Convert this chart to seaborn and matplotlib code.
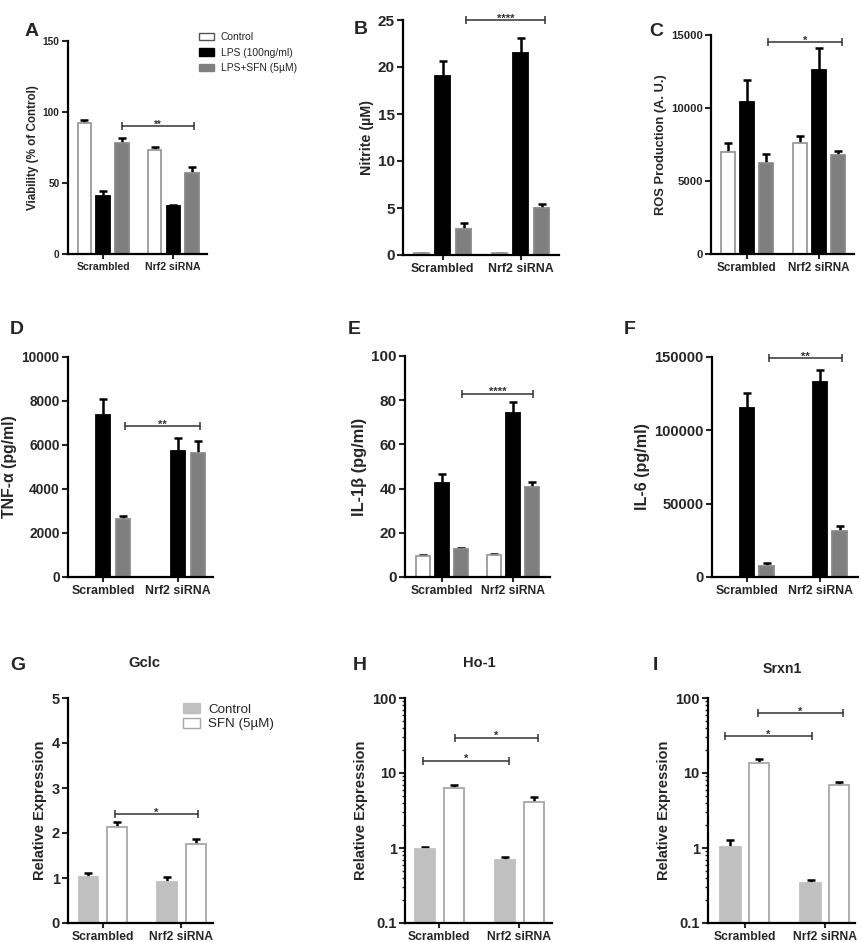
import numpy as np
import pandas as pd
import matplotlib
matplotlib.use("Agg")
import matplotlib.pyplot as plt
from matplotlib.patches import Patch
import seaborn as sns

groups = ["Scrambled", "Nrf2 siRNA"]
lps_levels = ["Control", "LPS (100ng/ml)", "LPS+SFN (5µM)"]
sfn_levels = ["Control", "SFN (5µM)"]

# rows: Control, LPS, LPS+SFN ; columns: Scrambled, Nrf2 siRNA
viability = [[92, 73], [41, 34], [78, 57]]
viability_err = [[2.3, 2.3], [3.5, 0.5], [3.5, 4.2]]
nitrite = [[0.2, 0.2], [19.0, 21.5], [2.8, 5.05]]
nitrite_err = [[0.05, 0.05], [1.6, 1.6], [0.57, 0.35]]
ros = [[7000, 7580], [10430, 12600], [6250, 6780]]
ros_err = [[620, 500], [1480, 1480], [590, 300]]
tnf = [[0, 0], [7350, 5710], [2620, 5650]]
tnf_err = [[0, 0], [740, 620], [170, 530]]
il1b = [[9.4, 9.8], [42.6, 74.0], [12.7, 40.5]]
il1b_err = [[0.45, 0.6], [4.2, 5.1], [0.6, 2.6]]
il6 = [[0, 0], [115500, 133000], [7500, 31100]]
il6_err = [[0, 0], [10000, 8400], [2000, 3900]]

# rows: Control, SFN
gclc = [[1.02, 0.92], [2.14, 1.76]]
gclc_err = [[0.10, 0.10], [0.10, 0.11]]
ho1 = [[0.98, 0.70], [6.36, 4.14]]
ho1_err = [[0.04, 0.05], [0.54, 0.6]]
srxn1 = [[1.04, 0.344], [13.6, 6.9]]
srxn1_err = [[0.24, 0.036], [1.8, 0.6]]

W, H = 861, 942


def px_rect(left, top, right, bottom):
    return [left / W, 1 - bottom / H, (right - left) / W, (bottom - top) / H]


def bar_panel(ax, means, errs, levels, colors, edges, width, gap, log=False):
    df = pd.DataFrame({
        "group": groups * len(levels),
        "treatment": np.repeat(levels, len(groups)),
        "value": np.ravel(means),
    })
    sns.barplot(data=df, x="group", y="value", hue="treatment", order=groups,
                hue_order=levels, palette=dict(zip(levels, colors)),
                width=width, gap=gap, errorbar=None, legend=False,
                saturation=1, linewidth=1.3, ax=ax)
    if log:
        ax.set_yscale("log")
    bars = ax.patches
    for i, b in enumerate(bars):
        b.set_edgecolor(edges[i // len(groups)])
        b.set_zorder(2)
    xs = np.array([b.get_x() + b.get_width() / 2 for b in bars])
    ys = np.array([b.get_height() for b in bars])
    e = np.ravel(errs)
    show = ys > 0
    # lower half of each error bar sits behind its bar
    ax.errorbar(xs[show], ys[show], yerr=e[show], fmt="none", ecolor="black",
                elinewidth=1.8, capsize=3.2, capthick=1.8, zorder=1)
    return xs


def bracket(ax, x1, x2, y, label, fs=8):
    ax.plot([x1, x2], [y, y], color="#333333", lw=1.1, marker="|", ms=6,
            mew=1.1, clip_on=False, zorder=4)
    ax.annotate(label, ((x1 + x2) / 2, y), xytext=(0, -1),
                textcoords="offset points", ha="center", va="baseline",
                fontsize=fs, color="#333333", annotation_clip=False)


def style(ax, ylabel, ytick_fs, xtick_fs, ylabel_fs, xlim):
    sns.despine(ax=ax)
    for s in ("left", "bottom"):
        ax.spines[s].set_linewidth(1.6)
        ax.spines[s].set_color("black")
        ax.spines[s].set_zorder(3)
    ax.set_xlim(*xlim)
    ax.set_xlabel("")
    ax.set_ylabel(ylabel, fontsize=ylabel_fs, fontweight="bold", labelpad=3)
    ax.tick_params(axis="y", length=4.5, width=1.5, labelsize=ytick_fs, pad=1.5)
    ax.tick_params(axis="x", length=3.5, width=1.5, labelsize=xtick_fs, pad=2.5)
    ax.tick_params(axis="y", which="minor", length=2.5, width=1)
    for t in ax.get_xticklabels() + ax.get_yticklabels():
        t.set_fontweight("bold")


sns.set_style("ticks")
plt.rcParams["font.family"] = ["Liberation Sans", "DejaVu Sans"]
plt.rcParams["font.weight"] = "bold"

fig = plt.figure(figsize=(W / 100, H / 100), dpi=100)

lps_colors = ["white", "black", "#7f7f7f"]
lps_edges = ["#9a9a9a", "black", "#8a8a8a"]
sfn_colors = ["#c0c0c0", "white"]
sfn_edges = ["#c0c0c0", "#a8a8a8"]
xl3 = (-0.5, 1.48)
xl2 = (-0.44, 1.4)

# A
ax = fig.add_axes(px_rect(68, 41, 207, 254))
xs = bar_panel(ax, viability, viability_err, lps_levels, lps_colors, lps_edges, 0.8, 0.28)
ax.set_ylim(0, 150)
ax.set_yticks([0, 50, 100, 150])
bracket(ax, xs[4], xs[5] + 0.03, 90, "**", 7)
style(ax, "Viability (% of Control)", 7.3, 7.6, 8.4, xl3)
handles = [Patch(facecolor=c, edgecolor=e, linewidth=1) for c, e in zip(lps_colors, ["#555555", "black", "#7f7f7f"])]
fig.legend(handles, lps_levels, loc="upper left", bbox_to_anchor=(199 / W, 1 - 32 / H),
           frameon=False, borderpad=0, borderaxespad=0, handlelength=1.5,
           handleheight=0.75, handletextpad=0.6, labelspacing=0.55,
           prop={"size": 7.4, "weight": "normal"})

# B
ax = fig.add_axes(px_rect(403, 20, 559, 255))
xs = bar_panel(ax, nitrite, nitrite_err, lps_levels, lps_colors, lps_edges, 0.8, 0.28)
ax.set_ylim(0, 25)
ax.set_yticks([0, 5, 10, 15, 20, 25])
bracket(ax, xs[4] + 0.03, xs[5] + 0.05, 25, "****", 8)
style(ax, "Nitrite (µM)", 11, 8.9, 10.3, (-0.51, 1.49))

# C
ax = fig.add_axes(px_rect(711, 35, 854, 254))
xs = bar_panel(ax, ros, ros_err, lps_levels, lps_colors, lps_edges, 0.8, 0.28)
ax.set_ylim(0, 15000)
ax.set_yticks([0, 5000, 10000, 15000])
bracket(ax, xs[4] + 0.03, xs[5] + 0.05, 14500, "*", 8)
style(ax, "ROS Production (A. U.)", 8.1, 8.4, 9.3, (-0.5, 1.49))

# D
ax = fig.add_axes(px_rect(68, 357, 213, 577))
xs = bar_panel(ax, tnf, tnf_err, lps_levels, lps_colors, lps_edges, 0.8, 0.28)
ax.set_ylim(0, 10000)
ax.set_yticks(range(0, 10001, 2000))
bracket(ax, xs[4] + 0.03, xs[5] + 0.03, 6850, "**", 8)
style(ax, "TNF-α (pg/ml)", 9.9, 8.9, 11.4, (-0.47, 1.47))

# E
ax = fig.add_axes(px_rect(405, 356, 550, 577))
xs = bar_panel(ax, il1b, il1b_err, lps_levels, lps_colors, lps_edges, 0.8, 0.28)
ax.set_ylim(0, 100)
ax.set_yticks(range(0, 101, 20))
bracket(ax, xs[4] + 0.02, xs[5] + 0.02, 83, "****", 8)
style(ax, "IL-1β (pg/ml)", 11, 8.7, 11.8, (-0.52, 1.52))

# F
ax = fig.add_axes(px_rect(712, 357, 858, 577))
xs = bar_panel(ax, il6, il6_err, lps_levels, lps_colors, lps_edges, 0.8, 0.28)
ax.set_ylim(0, 150000)
ax.set_yticks([0, 50000, 100000, 150000])
ax.set_yticklabels(["0", "50000", "100000", "150000"])
bracket(ax, xs[4] + 0.03, xs[5] + 0.03, 149000, "**", 8)
style(ax, "IL-6 (pg/ml)", 10.6, 8.8, 11.6, (-0.48, 1.52))

# G
ax = fig.add_axes(px_rect(68, 698, 213, 923))
xs = bar_panel(ax, gclc, gclc_err, sfn_levels, sfn_colors, sfn_edges, 0.72, 0.3)
ax.set_ylim(0, 5)
ax.set_yticks(range(0, 6))
bracket(ax, xs[2] - 0.02, xs[3] + 0.03, 2.42, "*", 8)
style(ax, "Relative Expression", 10.5, 8.7, 10.5, xl2)
handles = [Patch(facecolor=c, edgecolor=e, linewidth=1) for c, e in zip(sfn_colors, sfn_edges)]
ax.legend(handles, sfn_levels, loc="upper left", bbox_to_anchor=(183 / W, 1 - 703 / H),
          bbox_transform=fig.transFigure, frameon=False, borderpad=0,
          borderaxespad=0, handlelength=1.3, handleheight=0.8,
          handletextpad=0.6, labelspacing=0.15,
          prop={"size": 9.6, "weight": "normal"})
fig.text(144 / W, 1 - 663 / H, "Gclc", ha="center", va="center", fontsize=10.7, fontweight="bold")

# H
ax = fig.add_axes(px_rect(405, 698, 552, 923))
xs = bar_panel(ax, ho1, ho1_err, sfn_levels, sfn_colors, sfn_edges, 0.72, 0.3, log=True)
ax.set_ylim(0.1, 100)
ax.set_yticks([0.1, 1, 10, 100], labels=["0.1", "1", "10", "100"])
bracket(ax, xs[0] - 0.02, xs[1] + 0.05, 14.5, "*", 8)
bracket(ax, xs[2] + 0.02, xs[3] + 0.05, 29.5, "*", 8)
style(ax, "Relative Expression", 10.5, 8.7, 10.5, (-0.43, 1.41))
fig.text(479 / W, 1 - 663 / H, "Ho-1", ha="center", va="center", fontsize=10.5, fontweight="bold")

# I
ax = fig.add_axes(px_rect(708, 698, 855, 923))
xs = bar_panel(ax, srxn1, srxn1_err, sfn_levels, sfn_colors, sfn_edges, 0.72, 0.3, log=True)
ax.set_ylim(0.1, 100)
ax.set_yticks([0.1, 1, 10, 100], labels=["0.1", "1", "10", "100"])
bracket(ax, xs[0] - 0.07, xs[1] + 0.02, 31, "*", 8)
bracket(ax, xs[2] - 0.01, xs[3] + 0.04, 63, "*", 8)
style(ax, "Relative Expression", 10.5, 8.7, 10.5, (-0.46, 1.375))
fig.text(782 / W, 1 - 669 / H, "Srxn1", ha="center", va="center", fontsize=10.2, fontweight="bold")

# panel letters
letters = [("A", 25, 31), ("B", 354, 29), ("C", 649, 32),
           ("D", 10, 329), ("E", 348, 329), ("F", 624, 329),
           ("G", 10, 665), ("H", 353, 665), ("I", 653, 666)]
for lab, lx, ly in letters:
    fig.text(lx / W, 1 - ly / H, lab, ha="left", va="center", fontsize=14, fontweight="bold")

fig.savefig("out.png", dpi=100)
